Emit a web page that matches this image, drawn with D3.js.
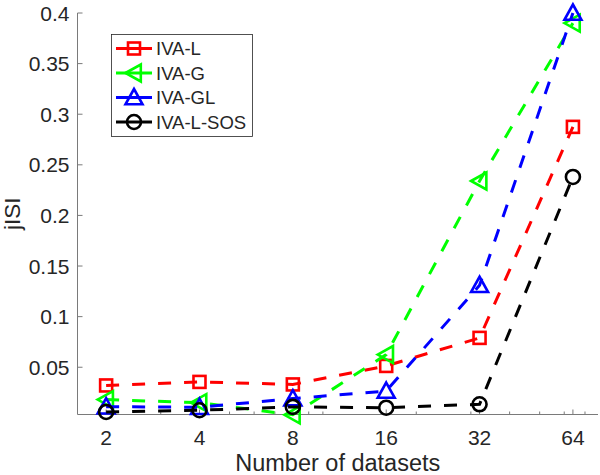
<!DOCTYPE html>
<html>
<head>
<meta charset="utf-8">
<script src="https://cdn.jsdelivr.net/npm/d3@7"></script>
<style>
  body { margin: 0; background: #fff; }
  svg { display: block; }
  text { font-family: "Liberation Sans", Arial, Helvetica, sans-serif; fill: #262626; }
</style>
</head>
<body>
<svg id="chart" width="600" height="475"></svg>
<script>
// ---- data ----
const categories = [2, 4, 8, 16, 32, 64];
const seriesNames = ["IVA-L", "IVA-G", "IVA-GL", "IVA-L-SOS"];
const ivaL    = [0.032, 0.0355, 0.033, 0.0513, 0.079, 0.2875];
const ivaG    = [0.018, 0.015, 0.003, 0.0625, 0.234, 0.390];
const ivaGL   = [0.011, 0.0105, 0.019, 0.0265, 0.131, 0.400];
const ivaLSOS = [0.0058, 0.0075, 0.0108, 0.010, 0.0134, 0.238];
const yTicks = [0.05, 0.1, 0.15, 0.2, 0.25, 0.3, 0.35, 0.4];
const yTickLabels = ["0.05", "0.1", "0.15", "0.2", "0.25", "0.3", "0.35", "0.4"];
const xTickLabels = ["2", "4", "8", "16", "32", "64"];
const minorX = [3, 5, 6, 7, 9, 10, 20, 30, 40, 50, 60, 70];
const xLabel = "Number of datasets";
const yLabel = "jISI";

const series = [
  { name: seriesNames[0], values: ivaL,    color: "#ff0000", marker: "square" },
  { name: seriesNames[1], values: ivaG,    color: "#00ff00", marker: "triLeft" },
  { name: seriesNames[2], values: ivaGL,   color: "#0000ff", marker: "triUp" },
  { name: seriesNames[3], values: ivaLSOS, color: "#000000", marker: "circle" }
];

// ---- layout ----
const L = 77.5, R = 598, T = 13, B = 414.5;
const svg = d3.select("#chart");

const x = d3.scaleLog().base(2).domain([1.617, 77.1]).range([L, R]);
const y = d3.scaleLinear().domain([0.0033, 0.4]).range([B, T]);

const axisColor = "#7a7a7a";

// x axis
const gx = svg.append("g").attr("transform", `translate(0,${B})`);
gx.append("line").attr("x1", L).attr("x2", R).attr("y1", 0).attr("y2", 0)
  .attr("stroke", axisColor).attr("stroke-width", 1);
gx.selectAll("line.minor").data(minorX).enter().append("line")
  .attr("class", "minor")
  .attr("x1", d => x(d)).attr("x2", d => x(d)).attr("y1", 0).attr("y2", -3)
  .attr("stroke", axisColor).attr("stroke-width", 1);
gx.selectAll("line.major").data(categories).enter().append("line")
  .attr("class", "major")
  .attr("x1", d => x(d)).attr("x2", d => x(d)).attr("y1", 0).attr("y2", -5)
  .attr("stroke", axisColor).attr("stroke-width", 1);
gx.selectAll("text").data(categories).enter().append("text")
  .attr("x", d => x(d)).attr("y", 30.5)
  .attr("text-anchor", "middle").attr("font-size", 21)
  .text((d, i) => xTickLabels[i]);

// y axis
const gy = svg.append("g").attr("transform", `translate(${L},0)`);
gy.append("line").attr("x1", 0).attr("x2", 0).attr("y1", T).attr("y2", B)
  .attr("stroke", axisColor).attr("stroke-width", 1);
gy.selectAll("line.major").data(yTicks).enter().append("line")
  .attr("x1", 0).attr("x2", 5).attr("y1", d => y(d)).attr("y2", d => y(d))
  .attr("stroke", axisColor).attr("stroke-width", 1);
gy.selectAll("text").data(yTicks).enter().append("text")
  .attr("x", -8).attr("y", d => y(d)).attr("dy", "0.36em")
  .attr("text-anchor", "end").attr("font-size", 21)
  .text((d, i) => yTickLabels[i]);

// axis labels
svg.append("text").attr("x", (L + R) / 2).attr("y", 471)
  .attr("text-anchor", "middle").attr("font-size", 23.5).text(xLabel);
svg.append("text")
  .attr("transform", `translate(20,${(T + B) / 2}) rotate(-90)`)
  .attr("text-anchor", "middle").attr("font-size", 22.5).text(yLabel);

// markers
function drawMarker(g, type, cx, cy, color) {
  const sw = 2.6;
  if (type === "square") {
    g.append("rect").attr("x", cx - 6).attr("y", cy - 6).attr("width", 12).attr("height", 12)
      .attr("fill", "none").attr("stroke", color).attr("stroke-width", sw);
  } else if (type === "circle") {
    g.append("circle").attr("cx", cx).attr("cy", cy).attr("r", 7)
      .attr("fill", "none").attr("stroke", color).attr("stroke-width", sw);
  } else if (type === "triUp") {
    const s = 8.5;
    g.append("path").attr("d", `M${cx},${cy - s}L${cx + s},${cy + s * 0.8}L${cx - s},${cy + s * 0.8}Z`)
      .attr("fill", "none").attr("stroke", color).attr("stroke-width", sw).attr("stroke-linejoin", "miter");
  } else if (type === "triLeft") {
    const s = 8.5;
    g.append("path").attr("d", `M${cx - s},${cy}L${cx + s * 0.8},${cy - s}L${cx + s * 0.8},${cy + s}Z`)
      .attr("fill", "none").attr("stroke", color).attr("stroke-width", sw).attr("stroke-linejoin", "miter");
  }
}

const line = d3.line().x((d, i) => x(categories[i])).y(d => y(d));
series.forEach(s => {
  const g = svg.append("g");
  g.append("path").datum(s.values).attr("d", line)
    .attr("fill", "none").attr("stroke", s.color).attr("stroke-width", 3)
    .attr("stroke-dasharray", "13,13");
  s.values.forEach((v, i) => drawMarker(g, s.marker, x(categories[i]), y(v), s.color));
});

// legend
const lg = svg.append("g");
lg.append("rect").attr("x", 111.5).attr("y", 34.5).attr("width", 141).attr("height", 102)
  .attr("fill", "#fff").attr("stroke", "#262626").attr("stroke-width", 0.8);
const rowY = [48.5, 73, 97.5, 122];
series.forEach((s, i) => {
  const cy = rowY[i];
  lg.append("line").attr("x1", 116).attr("x2", 152).attr("y1", cy).attr("y2", cy)
    .attr("stroke", s.color).attr("stroke-width", 3);
  drawMarker(lg, s.marker, 134, cy, s.color);
  lg.append("text").attr("x", 156).attr("y", cy).attr("dy", "0.36em")
    .attr("font-size", 18.5).text(s.name);
});
</script>
</body>
</html>
